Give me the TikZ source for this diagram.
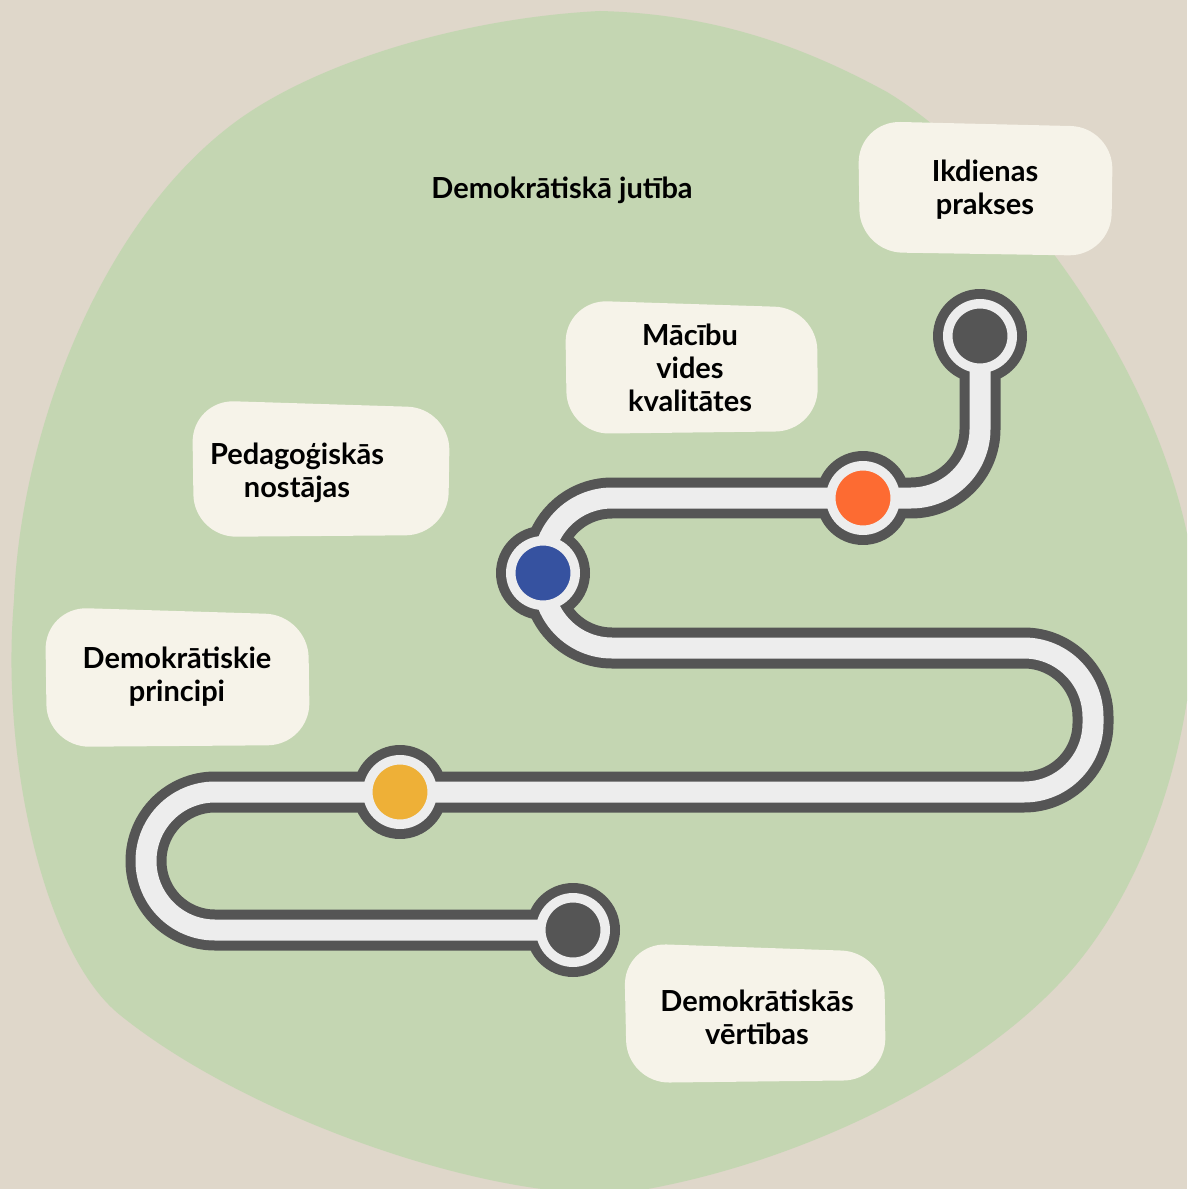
\documentclass[tikz,border=0pt]{standalone}
\usepackage{fontspec}
\setmainfont{Lato}
\usepackage{xcolor}
\usepackage{tikz}

\definecolor{paper}{HTML}{DFD7CA}
\definecolor{meadow}{HTML}{C4D6B2}
\definecolor{cream}{HTML}{F6F3E9}
\definecolor{asphalt}{HTML}{555555}
\definecolor{lane}{HTML}{EDEDED}
\definecolor{stoporange}{HTML}{FD6B32}
\definecolor{stopblue}{HTML}{3652A0}
\definecolor{stopyellow}{HTML}{EEB037}

\begin{document}
\begin{tikzpicture}[x=0.02cm, y=-0.02cm,
    card/.style={fill=cream, rounded corners=0.85cm},
    caption/.style={font=\bfseries\fontsize{16.5}{18.8}\selectfont, align=center, text=black},
    roadbed/.style={draw=asphalt, line width=0.82cm, rounded corners=1.38cm},
    roadlane/.style={draw=lane, line width=0.42cm, rounded corners=1.38cm},
    hub/.style={circle, inner sep=0pt, minimum size=1.88cm, fill=asphalt},
    stop/.style={circle, inner sep=0pt, minimum size=1.29cm, fill=#1, draw=lane, line width=0.19cm}]

    \useasboundingbox (0,0) rectangle (1187,1189);
    \fill[paper] (0,0) rectangle (1187,1189);

    \begin{scope}
        \clip (0,0) rectangle (1187,1189);
        \fill[meadow] (600,11) .. controls (720,14) and (810,50) .. (887,92)
            .. controls (1000,160) and (1160,360) .. (1192,560)
            .. controls (1205,700) and (1160,860) .. (1080,960)
            .. controls (990,1072) and (800,1165) .. (630,1192)
            .. controls (500,1205) and (250,1120) .. (120,1015)
            .. controls (45,955) and (0,760) .. (14,600)
            .. controls (20,440) and (95,230) .. (230,126)
            .. controls (310,64) and (460,18) .. (600,11) -- cycle;
    \end{scope}

    \fill[card] (858,121) -- (1113,127) -- (1111,256) -- (860,252) -- cycle;
    \fill[card] (565,300) -- (817,308) -- (818,431) -- (567,434) -- cycle;
    \fill[card] (192,400) -- (450,408) -- (448,535) -- (194,537) -- cycle;
    \fill[card] (45,607) -- (308,615) -- (310,745) -- (47,747) -- cycle;
    \fill[card] (624,943) -- (884,952) -- (886,1080) -- (627,1083) -- cycle;

    \node[caption] (title) at (562,190) {Demokrātiskā jutība};
    \node[caption] (prakses) at (985,190) {Ikdienas\\prakses};
    \node[caption] (vide) at (690,368) {Mācību\\vides\\kvalitātes};
    \node[caption] (nostajas) at (297,473) {Pedagoģiskās\\nostājas};
    \node[caption] (principi) at (177,677) {Demokrātiskie\\principi};
    \node[caption] (vertibas) at (757,1017) {Demokrātiskās\\vērtības};

    \coordinate (m0) at (980,336);
    \coordinate (m1) at (863,498);
    \coordinate (m2) at (543,573);
    \coordinate (m3) at (400,792);
    \coordinate (m4) at (573,930);

    \coordinate (c1) at (980,498);
    \coordinate (c2) at (543,498);
    \coordinate (c3) at (543,648);
    \coordinate (c4) at (1093,648);
    \coordinate (c5) at (1093,792);
    \coordinate (c6) at (146,792);
    \coordinate (c7) at (146,930);

    \draw[roadbed] (m0) -- (c1) -- (c2) -- (c3) -- (c4) -- (c5) -- (c6) -- (c7) -- (m4);

    \node[hub] (h0) at (m0) {};
    \node[hub] (h1) at (m1) {};
    \node[hub] (h2) at (m2) {};
    \node[hub] (h3) at (m3) {};
    \node[hub] (h4) at (m4) {};

    \draw[roadlane] (h0.center) -- (c1) -- (c2) -- (c3) -- (c4) -- (c5) -- (c6) -- (c7) -- (h4.center);

    \node[stop=asphalt] (s0) at (h0) {};
    \node[stop=stoporange] (s1) at (h1) {};
    \node[stop=stopblue] (s2) at (h2) {};
    \node[stop=stopyellow] (s3) at (h3) {};
    \node[stop=asphalt] (s4) at (h4) {};

\end{tikzpicture}
\end{document}
